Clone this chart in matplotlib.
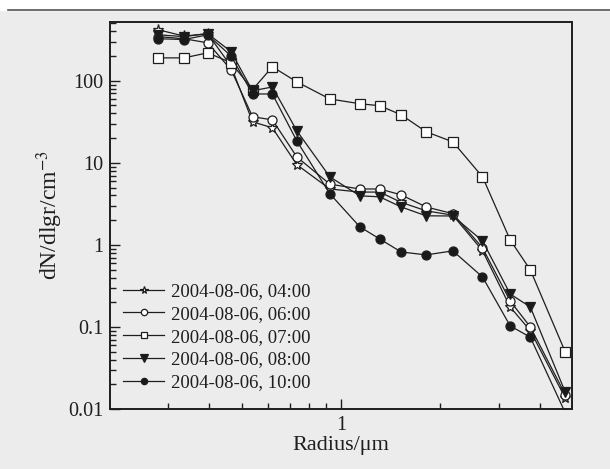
import matplotlib
matplotlib.use("Agg")
import matplotlib.pyplot as plt
import matplotlib.ticker as mticker
from matplotlib.patches import Rectangle
from matplotlib.lines import Line2D
import numpy as np

plt.rcParams["font.family"] = ["Liberation Serif", "DejaVu Serif"]
plt.rcParams["mathtext.fontset"] = "stix"

# ##### Data #####

radius = [0.28, 0.335, 0.395, 0.465, 0.54, 0.62, 0.735, 0.925, 1.14, 1.31,
          1.52, 1.81, 2.18, 2.68, 3.25, 3.74, 4.77]

dn_0400 = [418, 350, 375, 150, 31.6, 26.7, 9.5, 4.8, 4.4, 4.4,
           3.3, 2.6, 2.3, 0.85, 0.175, 0.09, 0.0136]
dn_0600 = [345, 325, 290, 136, 36.4, 33.4, 11.8, 5.5, 4.8, 4.8,
           4.07, 2.9, 2.4, 0.92, 0.207, 0.1, 0.015]
dn_0700 = [190, 190, 219, 166, 78, 148, 97, 60, 52.5, 49.6,
           38.5, 23.9, 18, 6.75, 1.15, 0.496, 0.0496]
dn_0800 = [363, 345, 375, 226, 75.5, 84, 24.6, 6.75, 3.96, 3.85,
           2.9, 2.26, 2.25, 1.12, 0.252, 0.175, 0.0161]
dn_1000 = [325, 318, 363, 200, 69, 69, 18.5, 4.2, 1.66, 1.18,
           0.82, 0.755, 0.845, 0.407, 0.103, 0.075, 0.009]

labels = ["2004-08-06, 04:00", "2004-08-06, 06:00", "2004-08-06, 07:00",
          "2004-08-06, 08:00", "2004-08-06, 10:00"]

series = [dn_0400, dn_0600, dn_0700, dn_0800, dn_1000]
markers = ["*", "o", "s", "v", "o"]
faces = ["white", "white", "white", "#1a1a1a", "#1a1a1a"]
msizes = [8, 6.5, 6.5, 7.5, 6.5]

bg = "#ececec"
ink = "#1e1e1e"

# ##### Make plot #####

fig = plt.figure(figsize=(6.1, 4.69), dpi=100, facecolor=bg)

# scan edge: white strip on top with a dark rule
fig.patches.append(Rectangle((0, 1 - 10 / 469), 1, 10 / 469,
                             transform=fig.transFigure, color="white",
                             zorder=0))
fig.lines.append(Line2D([8 / 610, 1], [1 - 10 / 469, 1 - 10 / 469],
                        transform=fig.transFigure, color="#555555", lw=1.2))

ax = fig.add_axes([110 / 610, 1 - 409 / 469, 462 / 610, 387 / 469])
ax.set_facecolor(bg)

for i in range(len(series)):
    ax.plot(radius, series[i], color=ink, lw=0.9, marker=markers[i],
            ms=msizes[i], mfc=faces[i], mec=ink, mew=0.9,
            label=labels[i])

ax.set_xscale("log")
ax.set_yscale("log")
ax.set_xlim(0.2, 5.0)
ax.set_ylim(0.01, 520)

ax.xaxis.set_major_locator(mticker.FixedLocator([1]))
ax.xaxis.set_major_formatter(mticker.FixedFormatter(["1"]))
ax.xaxis.set_minor_locator(mticker.FixedLocator(
    [0.3, 0.4, 0.5, 0.6, 0.7, 0.8, 0.9, 2, 3, 4]))
ax.xaxis.set_minor_formatter(mticker.NullFormatter())

ax.yaxis.set_major_locator(mticker.LogLocator(base=10))
ax.yaxis.set_major_formatter(mticker.FuncFormatter(
    lambda v, p: "%g" % v))
ax.yaxis.set_minor_locator(mticker.LogLocator(base=10,
                                              subs=np.arange(2, 10)))
ax.yaxis.set_minor_formatter(mticker.NullFormatter())

ax.tick_params(which="both", direction="in", top=False, right=False,
               color=ink, width=1.0, labelsize=14.5, labelcolor=ink)
ax.tick_params(which="major", length=7, pad=5)
ax.tick_params(which="minor", length=4)

for s in ax.spines.values():
    s.set_linewidth(1.4)
    s.set_color(ink)

ax.set_xlabel("Radius/\u03bcm", fontsize=16, color=ink, labelpad=1)
ax.set_ylabel("dN/dlgr/cm$^{-3}$", fontsize=17, color=ink, labelpad=2)

ax.legend(loc="lower left", bbox_to_anchor=(0.0, 0.012), frameon=False,
          fontsize=13.5, handlelength=2.2, handletextpad=0.35,
          labelspacing=0.3, borderaxespad=0.3, markerscale=0.7,
          labelcolor=ink)

plt.savefig("out.png", dpi=100, facecolor=bg)
plt.close()
